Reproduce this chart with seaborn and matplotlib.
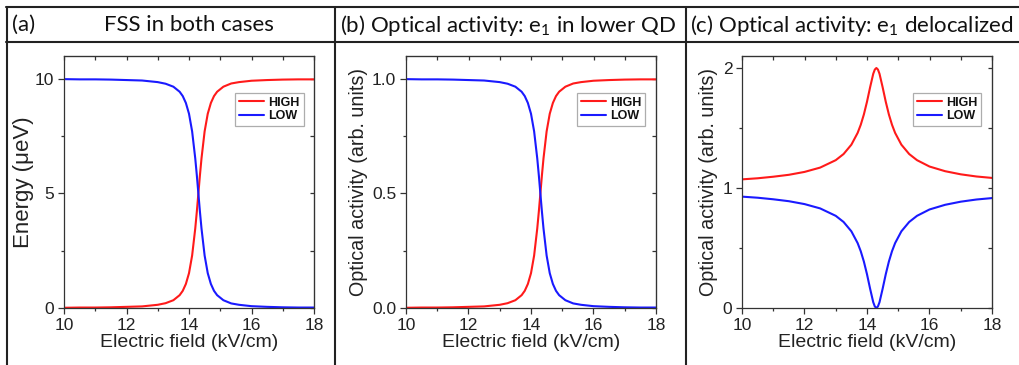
import matplotlib
matplotlib.use("Agg")
import matplotlib.pyplot as plt
from matplotlib.lines import Line2D
from matplotlib.ticker import MultipleLocator, FormatStrFormatter
import pandas as pd
import seaborn as sns

# Electric field samples (kV/cm), denser around the anticrossing at ~14.3
field = [10.0, 10.5, 11.0, 11.5, 12.0, 12.5, 13.0, 13.25, 13.5, 13.7, 13.8,
         13.9, 14.0, 14.1, 14.2, 14.25, 14.3, 14.35, 14.4, 14.5, 14.6, 14.7,
         14.8, 14.9, 15.1, 15.35, 15.6, 16.0, 16.5, 17.0, 17.5, 18.0]

# (a) fine-structure splitting (ueV)
fss_high = [0.01, 0.02, 0.02, 0.03, 0.05, 0.07, 0.14, 0.21, 0.34, 0.56, 0.75,
            1.05, 1.52, 2.29, 3.47, 4.20, 5.00, 5.80, 6.53, 7.71, 8.48, 8.95,
            9.25, 9.44, 9.66, 9.80, 9.86, 9.92, 9.95, 9.97, 9.98, 9.98]
fss_low = [9.99, 9.98, 9.98, 9.97, 9.95, 9.93, 9.86, 9.79, 9.66, 9.44, 9.25,
           8.95, 8.48, 7.71, 6.53, 5.80, 5.00, 4.20, 3.47, 2.29, 1.52, 1.05,
           0.75, 0.56, 0.34, 0.20, 0.14, 0.08, 0.05, 0.03, 0.02, 0.02]

# (b) optical activity, e1 in lower QD
lower_high = [0.001, 0.002, 0.002, 0.003, 0.005, 0.007, 0.014, 0.021, 0.034,
              0.056, 0.075, 0.105, 0.152, 0.229, 0.347, 0.420, 0.500, 0.580,
              0.653, 0.771, 0.848, 0.895, 0.925, 0.944, 0.966, 0.980, 0.986,
              0.992, 0.995, 0.997, 0.998, 0.998]
lower_low = [0.999, 0.998, 0.998, 0.997, 0.995, 0.993, 0.986, 0.979, 0.966,
             0.944, 0.925, 0.895, 0.848, 0.771, 0.653, 0.580, 0.500, 0.420,
             0.347, 0.229, 0.152, 0.105, 0.075, 0.056, 0.034, 0.020, 0.014,
             0.008, 0.005, 0.003, 0.002, 0.002]

# (c) optical activity, e1 delocalized
deloc_high = [1.072, 1.081, 1.094, 1.110, 1.134, 1.170, 1.232, 1.283, 1.361,
              1.459, 1.527, 1.613, 1.719, 1.840, 1.952, 1.987, 2.000, 1.987,
              1.952, 1.840, 1.719, 1.613, 1.527, 1.459, 1.361, 1.283, 1.232,
              1.179, 1.140, 1.114, 1.096, 1.084]
deloc_low = [0.928, 0.919, 0.906, 0.890, 0.866, 0.830, 0.768, 0.717, 0.639,
             0.541, 0.473, 0.387, 0.281, 0.160, 0.048, 0.013, 0.000, 0.013,
             0.048, 0.160, 0.281, 0.387, 0.473, 0.541, 0.639, 0.717, 0.768,
             0.821, 0.860, 0.886, 0.904, 0.916]

states = ["HIGH", "LOW"]
palette = {"HIGH": "#ff1a1a", "LOW": "#1a1aff"}

sns.set_style("ticks")
plt.rcParams["font.family"] = ["Liberation Sans", "DejaVu Sans"]
plt.rcParams["mathtext.fontset"] = "custom"
plt.rcParams["mathtext.rm"] = "Lato"
plt.rcParams["mathtext.it"] = "Lato:italic"

W, H = 1020, 365
fig = plt.figure(figsize=(W / 100, H / 100), dpi=100)


def px_rect(left, top, right, bottom):
    return [left / W, 1 - bottom / H, (right - left) / W, (bottom - top) / H]


def long_frame(high, low):
    return pd.DataFrame({
        "field": field * 2,
        "value": list(high) + list(low),
        "state": ["HIGH"] * len(field) + ["LOW"] * len(field),
    })


panels = [
    dict(rect=px_rect(64, 56, 314, 308), high=fss_high, low=fss_low,
         ylim=(0, 11), major=5, minor=2.5, fmt="%g",
         ylabel="Energy (\u03bceV)", ysize=16, ypad=1),
    dict(rect=px_rect(406, 56, 656, 308), high=lower_high, low=lower_low,
         ylim=(0, 1.1), major=0.5, minor=0.25, fmt="%.1f",
         ylabel="Optical activity (arb. units)", ysize=14.2, ypad=3),
    dict(rect=px_rect(742, 56, 992, 308), high=deloc_high, low=deloc_low,
         ylim=(0, 2.1), major=1, minor=0.5, fmt="%g",
         ylabel="Optical activity (arb. units)", ysize=14.2, ypad=3),
]

spine_color = "#333333"
text_color = "#222222"
for p in panels:
    ax = fig.add_axes(p["rect"])
    df = long_frame(p["high"], p["low"])
    sns.lineplot(data=df, x="field", y="value", hue="state", hue_order=states,
                 palette=palette, linewidth=1.5, ax=ax, sort=True)
    ax.set_xlim(10, 18)
    ax.set_ylim(*p["ylim"])
    ax.xaxis.set_major_locator(MultipleLocator(2))
    ax.xaxis.set_minor_locator(MultipleLocator(1))
    ax.yaxis.set_major_locator(MultipleLocator(p["major"]))
    ax.yaxis.set_minor_locator(MultipleLocator(p["minor"]))
    ax.yaxis.set_major_formatter(FormatStrFormatter(p["fmt"]))
    ax.tick_params(which="major", direction="out", length=4.5, width=0.9,
                   labelsize=12.5, colors=spine_color, labelcolor=text_color,
                   pad=2.5)
    ax.tick_params(which="minor", direction="out", length=2.5, width=0.9,
                   colors=spine_color)
    for s in ax.spines.values():
        s.set_visible(True)
        s.set_color(spine_color)
        s.set_linewidth(0.9)
    # mirrored ticks pointing inwards on the top and right sides
    top = ax.secondary_xaxis("top")
    top.xaxis.set_major_locator(MultipleLocator(1))
    top.tick_params(direction="in", length=3, width=0.9, labeltop=False,
                    colors=spine_color)
    right = ax.secondary_yaxis("right")
    right.yaxis.set_major_locator(MultipleLocator(p["minor"]))
    right.tick_params(direction="in", length=3, width=0.9, labelright=False,
                      colors=spine_color)
    ax.set_xlabel("Electric field (kV/cm)", fontsize=14, color=text_color,
                  labelpad=1)
    ax.set_ylabel(p["ylabel"], fontsize=p["ysize"], color=text_color,
                  labelpad=p["ypad"])
    leg = ax.legend(loc="upper right", bbox_to_anchor=(0.958, 0.853),
                    frameon=True, fancybox=False, handlelength=2.0,
                    handletextpad=0.35, borderpad=0.3, labelspacing=0.1,
                    borderaxespad=0,
                    prop={"weight": "bold", "size": 9})
    leg.get_frame().set_edgecolor("#999999")
    leg.get_frame().set_linewidth(0.9)
    for t in leg.get_texts():
        t.set_color("#111111")
    for h in leg.get_lines():
        h.set_linewidth(1.5)

# table-style frame around the panel headers
frame_kw = dict(color="#222222", linewidth=1.5, transform=fig.transFigure)


def hline(y, x0, x1):
    fig.add_artist(Line2D([x0 / W, x1 / W], [1 - y / H, 1 - y / H], **frame_kw))


def vline(x, y0, y1):
    fig.add_artist(Line2D([x / W, x / W], [1 - y0 / H, 1 - y1 / H], **frame_kw))


hline(7, 6.5, W)
hline(42, 6.5, W)
for x in (7, 335, 686):
    vline(x, 6.5, H)

title_kw = dict(fontsize=16, family=["Lato", "DejaVu Sans"], color="#111111",
                va="center")
ty = 1 - 25 / H
fig.text(12 / W, ty, "(a)", ha="left", **title_kw)
fig.text(189 / W, ty, "FSS in both cases", ha="center", **title_kw)
fig.text(340 / W, ty, r"(b) Optical activity: e$_1$ in lower QD", ha="left",
         **title_kw)
fig.text(690 / W, ty, r"(c) Optical activity: e$_1$ delocalized", ha="left",
         **title_kw)

fig.savefig("out.png", dpi=100, facecolor="white")
